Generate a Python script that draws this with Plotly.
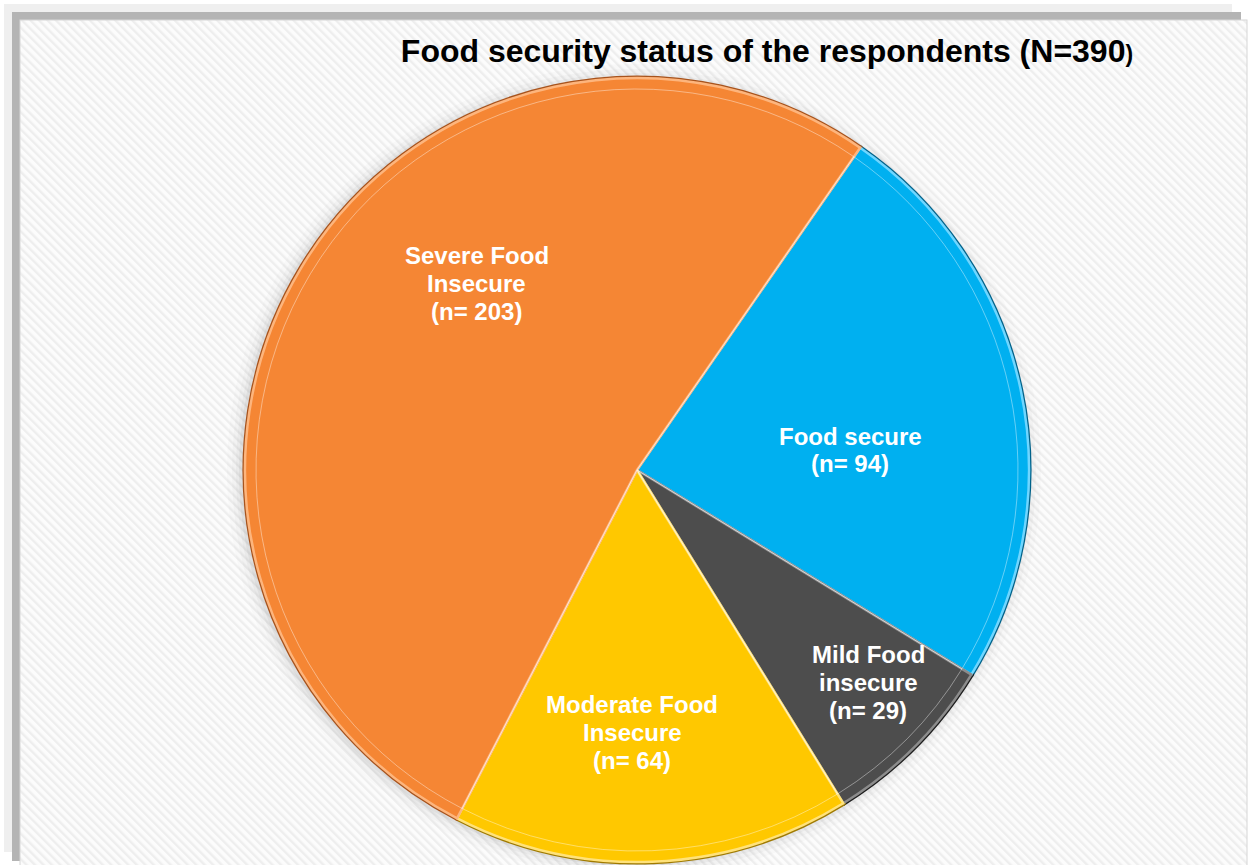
import base64
import plotly.graph_objects as go

# ---- data -------------------------------------------------------------
categories = ["Food secure", "Mild Food<br>insecure", "Moderate Food<br>Insecure", "Severe Food<br>Insecure"]
counts = [94, 29, 64, 203]
colors = ["#00B0F0", "#4D4D4D", "#FFC800", "#F58634"]
edge_colors = ["#6FD6FF", "#8C8C8C", "#FFE27A", "#FDB57D"]
rim_colors = ["#00628A", "#1E1E1E", "#A07A00", "#A8531C"]

# label block centres (pixels in the 1248x865 canvas)
label_px = [(850, 450), (868, 682), (632, 732), (477, 283)]
line_gap = 28

W, H = 1248, 865
N = sum(counts)


def fx(x):
    return x / W


def fy(y):
    return 1 - y / H


# pie geometry
cx, cy, r = 637, 470, 392
dom_x = [fx(cx - r), fx(cx + r)]
dom_y = [fy(cy + r), fy(cy - r)]
rot = 34.7

fig = go.Figure()

# dark rim underneath (outer bevel shadow)
fig.add_trace(go.Pie(
    values=counts, labels=categories, sort=False, direction="clockwise",
    rotation=rot, domain=dict(x=dom_x, y=dom_y),
    marker=dict(colors=colors, line=dict(color=rim_colors, width=5)),
    textinfo="none", hoverinfo="skip", showlegend=False,
))
# main slices with light bevel edges
fig.add_trace(go.Pie(
    values=counts, labels=categories, sort=False, direction="clockwise",
    rotation=rot, domain=dict(x=dom_x, y=dom_y),
    marker=dict(colors=colors, line=dict(color=edge_colors, width=2.5)),
    textinfo="none", hoverinfo="label+value", showlegend=False,
))
# inner highlight arc
ri = r - 11
fig.add_trace(go.Pie(
    values=counts, labels=categories, sort=False, direction="clockwise",
    rotation=rot, domain=dict(x=[fx(cx - ri), fx(cx + ri)], y=[fy(cy + ri), fy(cy - ri)]),
    marker=dict(colors=["rgba(0,0,0,0)"] * 4, line=dict(color="rgba(255,255,255,0.4)", width=1)),
    textinfo="none", hoverinfo="skip", showlegend=False,
))

# slice labels, one annotation per line for tight leading
annotations = []
for cat, n, (x, y) in zip(categories, counts, label_px):
    lines = cat.split("<br>") + [f"(n= {n})"]
    top = y - line_gap * (len(lines) - 1) / 2
    for i, txt in enumerate(lines):
        annotations.append(dict(
            x=fx(x), y=fy(top + i * line_gap), xref="paper", yref="paper",
            xanchor="center", yanchor="middle",
            text=f"<b>{txt}</b>", showarrow=False, align="center",
            font=dict(family="Liberation Sans, Arial", size=24, color="white"),
        ))

# framed, hatched background panel
svg = f"""<svg xmlns='http://www.w3.org/2000/svg' width='{W}' height='{H}'>
<defs><pattern id='h' patternUnits='userSpaceOnUse' width='6' height='6' patternTransform='rotate(-45)'>
<rect width='6' height='6' fill='#fcfcfc'/><rect width='2.4' height='6' fill='#eeeeee'/></pattern></defs>
<rect width='{W}' height='{H}' fill='white'/>
<rect x='4' y='4' width='1228' height='848' fill='#efefef'/>
<rect x='12' y='12' width='1229' height='849' fill='#b4b4b4'/>
<rect x='20' y='20' width='1227' height='850' fill='url(#h)' stroke='#d6d6d6' stroke-width='1'/>
</svg>"""
bg_src = "data:image/svg+xml;base64," + base64.b64encode(svg.encode()).decode()

shapes = []
# soft halo around the pie
for k, a in [(16, 0.025), (11, 0.035), (7, 0.05), (4, 0.07)]:
    shapes.append(dict(type="circle", xref="paper", yref="paper",
                       x0=fx(cx - r - k - 2), x1=fx(cx + r + k - 4),
                       y0=fy(cy + r + k), y1=fy(cy - r - k + 2),
                       fillcolor=f"rgba(90,90,90,{a})", line=dict(width=0), layer="below"))

fig.update_layout(
    width=W, height=H,
    margin=dict(l=0, r=0, t=0, b=0),
    paper_bgcolor="white", plot_bgcolor="white",
    title=dict(
        text=f"<b>Food security status of the respondents (N={N}<span style='font-size:23px'>)</span></b>",
        x=fx(767), y=fy(51), xref="paper", yref="paper", xanchor="center", yanchor="middle",
        font=dict(family="Liberation Sans, Arial", size=32, color="black"),
    ),
    images=[dict(source=bg_src, xref="paper", yref="paper", x=0, y=1,
                 sizex=1, sizey=1, xanchor="left", yanchor="top",
                 sizing="stretch", layer="below")],
    shapes=shapes,
    annotations=annotations,
)

fig.write_html("out.html")
